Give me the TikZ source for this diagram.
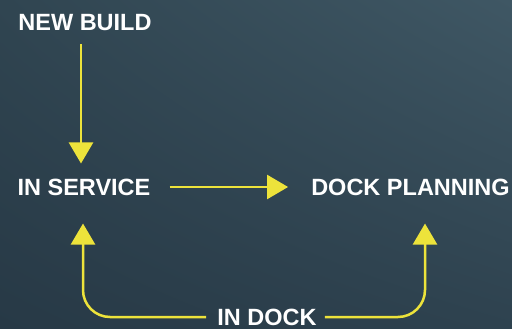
\documentclass[tikz,border=0pt]{standalone}
\usepackage{fontspec}
\setmainfont{Liberation Sans}
\usetikzlibrary{arrows.meta,shadings}
\definecolor{bgtl}{RGB}{48,69,81}
\definecolor{bgtr}{RGB}{63,87,100}
\definecolor{bgbl}{RGB}{39,57,70}
\definecolor{bgbr}{RGB}{46,66,79}
\definecolor{flowyellow}{RGB}{237,227,59}

\begin{document}
\begin{tikzpicture}[x=1pt,y=1pt,
    label/.style={text=white, font=\bfseries\fontsize{23.5}{24}\selectfont, inner sep=0pt},
    flow/.style={draw=flowyellow, line width=2.5pt, -{Triangle[length=21pt,width=24pt]}}]
            \shade[upper left=bgtl, upper right=bgtr, lower left=bgbl, lower right=bgbr] (0,0) rectangle (512,-329);
            \useasboundingbox (0,0) rectangle (512,-329);
            \node[label] (newbuild) at (85,-23) {NEW BUILD};
            \node[label] (inservice) at (84,-187) {IN SERVICE};
            \node[label] (dockplanning) at (410.5,-187) {DOCK PLANNING};
            \node[label] (indock) at (267,-317) {IN DOCK};
            \draw[flow, shorten <=13pt, shorten >=15pt] ([xshift=-4pt]newbuild.south) -- ([xshift=-3pt]inservice.north);
            \draw[flow, shorten <=19pt, shorten >=23pt] (inservice.east) -- (dockplanning.west);
            \draw[flow, rounded corners=27pt, shorten <=11pt, shorten >=28pt] (indock.west) -| ([xshift=-1pt]inservice.south);
            \draw[flow, rounded corners=27pt, shorten <=8pt, shorten >=28pt] (indock.east) -| ([xshift=14.5pt]dockplanning.south);
        \end{tikzpicture}
\end{document}
